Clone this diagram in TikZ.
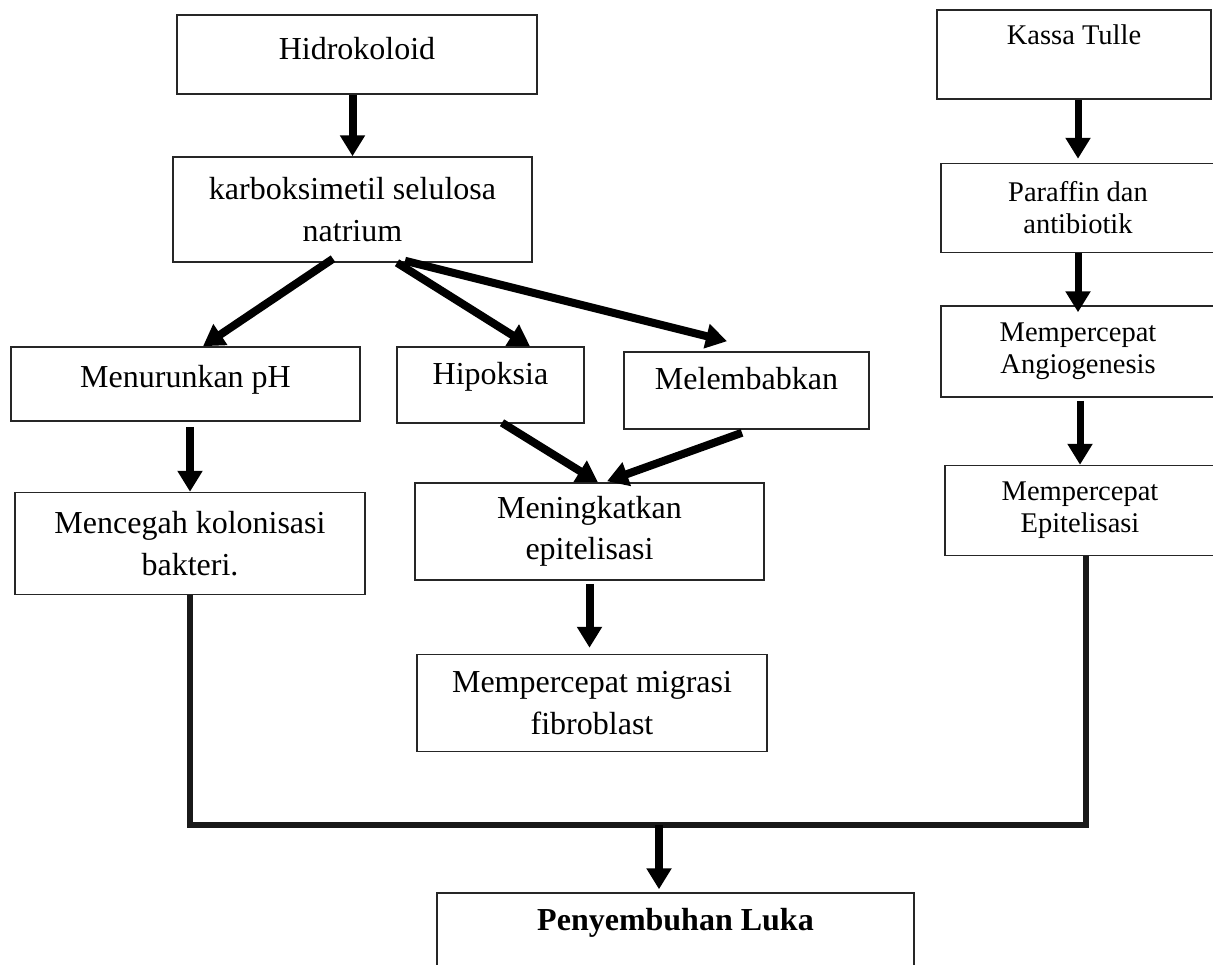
\documentclass[tikz,border=0pt]{standalone}
\usepackage{fontspec}
\setmainfont{Liberation Serif}
\usepackage{tikz}
\usetikzlibrary{positioning,calc,arrows.meta}

\begin{document}
\begin{tikzpicture}[x=0.5pt,y=-0.5pt,
    box/.style={draw=black!85, line width=0.75pt, rectangle, inner sep=0pt, align=center, font=\fontsize{16}{20.75}\selectfont},
    rbox/.style={box, font=\fontsize{14.25}{16}\selectfont},
    arr/.style={-{Triangle[width=12pt,length=10.5pt]}, line width=4pt},
    rarr/.style={arr, line width=3.5pt},
    link/.style={draw=black!90, line width=2.75pt}]
    \useasboundingbox (0,0) rectangle (1213,964);
    % left and middle blocks
    \node[box, minimum width=180pt, text height=22pt, text depth=17.5pt] (hidro) at (357,54.5) {Hidrokoloid};
    \node[box, minimum width=179.5pt, minimum height=52.5pt] (cms) at (352.5,209.5) {karboksimetil selulosa\\natrium};
    \node[box, minimum width=174.5pt, text height=20pt, text depth=17pt] (menurun) at (185.5,384) {Menurunkan pH};
    \node[box, minimum width=93.5pt, text height=18.5pt, text depth=19.5pt] (hipoksia) at (490.5,385) {Hipoksia};
    \node[box, minimum width=122.5pt, text height=18.5pt, text depth=20pt] (melembab) at (746.5,390.5) {Melembabkan};
    \node[box, minimum width=175pt, minimum height=51pt, below=35pt of menurun, xshift=2.25pt] (mencegah) {Mencegah kolonisasi\\bakteri.};
    \node[box, minimum width=174.5pt, minimum height=48.5pt] (meningkat) at (589.5,531.5) {Meningkatkan\\epitelisasi};
    \node[box, minimum width=175pt, minimum height=48.5pt, below=36.5pt of meningkat, xshift=1.25pt] (migrasi) {Mempercepat migrasi\\fibroblast};
    % right column
    \node[rbox, minimum width=137pt, text height=17.25pt, text depth=27.25pt] (kassa) at (1074,54.5) {Kassa Tulle};
    \node[rbox, minimum width=137pt, minimum height=44.5pt, below=31.5pt of kassa, xshift=2pt] (paraffin) {Paraffin dan\\antibiotik};
    \node[rbox, minimum width=137pt, minimum height=45.5pt, below=26pt of paraffin] (angio) {Mempercepat\\Angiogenesis};
    \node[rbox, minimum width=135pt, minimum height=45pt, below=33.5pt of angio, xshift=1pt] (epit) {Mempercepat\\Epitelisasi};
    % result
    \node[box, minimum width=238.5pt, text height=18.5pt, text depth=35pt, font=\fontsize{16}{20.75}\selectfont\bfseries] (sembuh) at (675.5,946.5) {Penyembuhan Luka};
    % arrows
    \draw[arr] (cms.north |- hidro.south) -- (cms.north);
    \draw[arr] ($(cms.south)+(-19.5,-4)$) -- ($(menurun.north)+(17.5,0)$);
    \draw[arr] ($(cms.south)+(44.5,0)$) -- ($(hipoksia.north)+(39.5,0)$);
    \draw[arr] ($(cms.south)+(52.5,-2)$) -- ($(melembab.north)+(-19.5,-10)$);
    \draw[arr, shorten <=2.5pt] (mencegah.north |- menurun.south) -- (mencegah.north);
    \draw[arr] ($(hipoksia.south)+(11.5,-1)$) -- ($(meningkat.north)+(8.5,0)$);
    \draw[arr] ($(melembab.south)+(-4.5,3)$) -- ($(meningkat.north)+(17.5,-1)$);
    \draw[arr, shorten <=1.5pt, shorten >=3pt] (meningkat.south) -- (meningkat.south |- migrasi.north);
    \draw[rarr, shorten >=2pt] (paraffin.north |- kassa.south) -- (paraffin.north);
    \draw[rarr, shorten >=-3.5pt] (angio.north |- paraffin.south) -- (angio.north);
    \draw[rarr, shorten <=1.5pt] (epit.north |- angio.south) -- (epit.north);
    % joining line
    \coordinate (jr) at (1086,825);
    \coordinate (jm) at (659,825);
    \draw[link] (mencegah.south) |- (jr) -- (jr |- epit.south);
    \draw[arr, shorten >=1.5pt] (jm) -- (jm |- sembuh.north);
\end{tikzpicture}
\end{document}
